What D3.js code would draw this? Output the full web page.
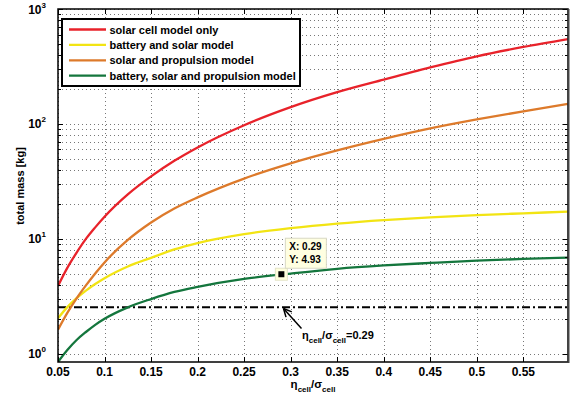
<!DOCTYPE html>
<html>
<head>
<meta charset="utf-8">
<script src="https://cdn.jsdelivr.net/npm/d3@7"></script>
<style>
  body { margin: 0; background: #fff; }
  svg text { font-family: "Liberation Sans", Arial, sans-serif; font-weight: bold; fill: #000; }
</style>
</head>
<body>
<svg id="chart" width="574" height="406"></svg>
<script>
// values
const ratio = [0.05, 0.06, 0.07, 0.08, 0.09, 0.1, 0.125, 0.15, 0.175, 0.2, 0.25, 0.3, 0.35, 0.4, 0.45, 0.5, 0.55, 0.598];
const solarOnly = [3.9, 5.6, 7.6, 10, 12.6, 15.6, 24.4, 35, 47.8, 62.5, 97.5, 140, 189, 243, 310, 388, 468, 548];
const batterySolar = [2.04, 2.55, 3.05, 3.55, 4.05, 4.55, 5.75, 6.85, 8.1, 9.2, 11.0, 12.4, 13.6, 14.6, 15.4, 16.1, 16.7, 17.3];
const solarProp = [1.62, 2.27, 3.04, 3.94, 5.01, 6.25, 9.8, 13.9, 18.4, 23, 33.5, 45.4, 58.8, 74.1, 91.4, 109.4, 128.9, 149.2];
const batSolarProp = [0.85, 1.08, 1.32, 1.55, 1.79, 2.02, 2.54, 3.0, 3.46, 3.83, 4.49, 5.0, 5.5, 5.88, 6.18, 6.47, 6.7, 6.88];

const seriesNames = ["solar cell model only", "battery and solar model", "solar and propulsion model", "battery, solar and propulsion model"];
const seriesColors = ["#e8222a", "#f2e413", "#dd7a2b", "#14763d"];
const seriesValues = [solarOnly, batterySolar, solarProp, batSolarProp];

const xTicks = [0.05, 0.1, 0.15, 0.2, 0.25, 0.3, 0.35, 0.4, 0.45, 0.5, 0.55];
const yDecades = [0, 1, 2, 3];
const limitLevel = 2.55;
const tip = { x: 0.29, y: 4.93 };

const svg = d3.select("#chart");
const plotL = 58, plotR = 568, plotT = 9, plotB = 362;

const x = d3.scaleLinear().domain([0.05, 0.598]).range([plotL, plotR]);
const y = d3.scaleLog().domain([0.85, 1000]).range([plotB, plotT]);

// grid (log minor lines + major x)
let minorY = [];
yDecades.forEach(d => {
  for (let k = 1; k < 10; k++) {
    let v = k * Math.pow(10, d);
    if (v >= 0.85 && v <= 1000) minorY.push(v);
  }
});

let grid = svg.append("g").attr("stroke", "#777").attr("stroke-width", 1).attr("stroke-dasharray", "1,3");
grid.selectAll(".gy").data(minorY).join("line")
  .attr("x1", plotL).attr("x2", plotR)
  .attr("y1", d => Math.round(y(d)) + 0.5).attr("y2", d => Math.round(y(d)) + 0.5);
grid.selectAll(".gx").data(xTicks).join("line")
  .attr("x1", d => Math.round(x(d)) + 0.5).attr("x2", d => Math.round(x(d)) + 0.5)
  .attr("y1", plotT).attr("y2", plotB);

// curves
svg.append("clipPath").attr("id", "clip").append("rect")
  .attr("x", plotL).attr("y", plotT).attr("width", plotR - plotL).attr("height", plotB - plotT);

let line = d3.line().x(d => x(d[0])).y(d => y(d[1])).curve(d3.curveMonotoneX);
let plot = svg.append("g").attr("clip-path", "url(#clip)");

plot.append("line")
  .attr("x1", plotL).attr("x2", plotR)
  .attr("y1", y(limitLevel)).attr("y2", y(limitLevel))
  .attr("stroke", "#000").attr("stroke-width", 2).attr("stroke-dasharray", "8,3,2,3");

seriesValues.forEach((vals, i) => {
  plot.append("path")
    .attr("d", line(ratio.map((r, j) => [r, vals[j]])))
    .attr("fill", "none")
    .attr("stroke", seriesColors[i])
    .attr("stroke-width", 2.3);
});

// ticks
let ticks = svg.append("g").attr("stroke", "#000").attr("stroke-width", 1);
xTicks.forEach(t => {
  let px = Math.round(x(t)) + 0.5;
  ticks.append("line").attr("x1", px).attr("x2", px).attr("y1", plotB).attr("y2", plotB - 5);
  ticks.append("line").attr("x1", px).attr("x2", px).attr("y1", plotT).attr("y2", plotT + 5);
});
minorY.forEach(v => {
  let py = Math.round(y(v)) + 0.5;
  let len = (Math.log10(v) % 1 === 0) ? 5 : 3;
  ticks.append("line").attr("x1", plotL).attr("x2", plotL + len).attr("y1", py).attr("y2", py);
  ticks.append("line").attr("x1", plotR).attr("x2", plotR - len).attr("y1", py).attr("y2", py);
});

// frame
svg.append("rect")
  .attr("x", plotL).attr("y", plotT).attr("width", plotR - plotL).attr("height", plotB - plotT)
  .attr("fill", "none").attr("stroke", "#000").attr("stroke-width", 1.5);
svg.append("line").attr("x1", plotR + 0.5).attr("x2", plotR + 0.5).attr("y1", plotT).attr("y2", plotB + 1)
  .attr("stroke", "#444").attr("stroke-width", 2);

// tick labels
svg.append("g").selectAll("text").data(xTicks).join("text")
  .attr("x", d => x(d)).attr("y", plotB + 14)
  .attr("text-anchor", "middle").attr("font-size", 12)
  .text(d => d3.format("")(d));

yDecades.forEach(d => {
  let t = svg.append("text")
    .attr("x", 46).attr("y", y(Math.pow(10, d)) + 4.5)
    .attr("text-anchor", "end").attr("font-size", 12);
  t.append("tspan").text("10");
  t.append("tspan").attr("font-size", 8).attr("dy", -6).text(d);
});

// axis labels
svg.append("text")
  .attr("transform", "translate(24,186) rotate(-90)")
  .attr("text-anchor", "middle").attr("font-size", 11)
  .text("total mass [kg]");

function ratioLabel(sel, extra) {
  sel.append("tspan").text("η");
  sel.append("tspan").attr("font-size", 8).attr("dy", 4).text("cell");
  sel.append("tspan").attr("dy", -4).text("/σ");
  sel.append("tspan").attr("font-size", 8).attr("dy", 4).text("cell");
  if (extra) sel.append("tspan").attr("dy", -4).text(extra);
}

ratioLabel(svg.append("text")
  .attr("x", 313).attr("y", 388)
  .attr("text-anchor", "middle").attr("font-size", 11.5));

// annotation arrow and label
let ax1 = 301.5, ay1 = 328.5, ax2 = 283.5, ay2 = 308.5;
svg.append("line").attr("x1", ax1).attr("y1", ay1).attr("x2", ax2).attr("y2", ay2)
  .attr("stroke", "#000").attr("stroke-width", 1.5);
let ang = Math.atan2(ay1 - ay2, ax1 - ax2);
[0.45, -0.45].forEach(a => {
  svg.append("line").attr("x1", ax2).attr("y1", ay2)
    .attr("x2", ax2 + 9 * Math.cos(ang + a)).attr("y2", ay2 + 9 * Math.sin(ang + a))
    .attr("stroke", "#000").attr("stroke-width", 1.5);
});
ratioLabel(svg.append("text")
  .attr("x", 302).attr("y", 339).attr("font-size", 11), "=0.29");

// datatip
let tx = x(tip.x), ty = y(tip.y);
svg.append("rect").attr("x", tx - 6).attr("y", ty - 6).attr("width", 12).attr("height", 12)
  .attr("fill", "#ffffdc").attr("stroke", "#e4e4c8");
svg.append("rect").attr("x", tx + 4).attr("y", ty - 36).attr("width", 41).attr("height", 30)
  .attr("fill", "#ffffe1").attr("stroke", "#d8d8c4");
svg.append("rect").attr("x", tx - 3).attr("y", ty - 3).attr("width", 6).attr("height", 6)
  .attr("fill", "#000");
svg.append("text").attr("x", tx + 8).attr("y", ty - 24).attr("font-size", 10).text("X: " + tip.x);
svg.append("text").attr("x", tx + 8).attr("y", ty - 11).attr("font-size", 10).text("Y: " + tip.y);

// legend
let lg = svg.append("g");
lg.append("rect").attr("x", 62).attr("y", 19).attr("width", 238).attr("height", 67)
  .attr("fill", "#fff").attr("stroke", "#000").attr("stroke-width", 2);
seriesNames.forEach((name, i) => {
  let ly = 29.5 + i * 15.4;
  lg.append("line").attr("x1", 69).attr("x2", 106).attr("y1", ly).attr("y2", ly)
    .attr("stroke", seriesColors[i]).attr("stroke-width", 2.3);
  lg.append("text").attr("x", 109.5).attr("y", ly + 4).attr("font-size", 11).text(name);
});
</script>
</body>
</html>
